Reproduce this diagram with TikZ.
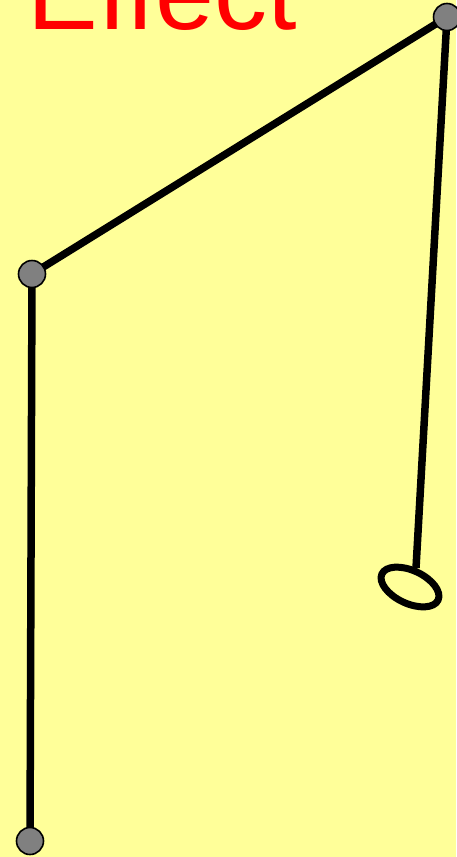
\documentclass[tikz,border=0pt]{standalone}
\usepackage{fontspec}
\setmainfont{Liberation Sans}
\definecolor{bg}{HTML}{FFFF99}
\definecolor{jointgray}{HTML}{808080}
\begin{document}
\begin{tikzpicture}[x=1pt,y=-1pt,
  joint/.style={circle,draw=black,line width=1.6pt,fill=jointgray,minimum size=27pt,inner sep=0pt},
  bar/.style={line width=7.5pt,draw=black},
  ringstyle/.style={line width=7pt,draw=black}]
\fill[bg] (0,0) rectangle (456,857);
\useasboundingbox (0,0) rectangle (456,857);
\node[anchor=base west,inner sep=0pt,text=red,font=\fontsize{106}{106}\selectfont] (title) at (27.6,29) {Effect};
\coordinate (ringtop) at (416,568);
\draw[bar] (447,17) -- (ringtop);
\draw[bar] (447,17) -- (32,274);
\draw[bar] (32,274) -- (30,841);
\draw[ringstyle] (410,587) ellipse[x radius=31,y radius=16.5,rotate=-25];
\node[joint] (top) at (447,17) {};
\node[joint] (mid) at (32,274) {};
\node[joint] (bot) at (30,841) {};
\end{tikzpicture}
\end{document}
